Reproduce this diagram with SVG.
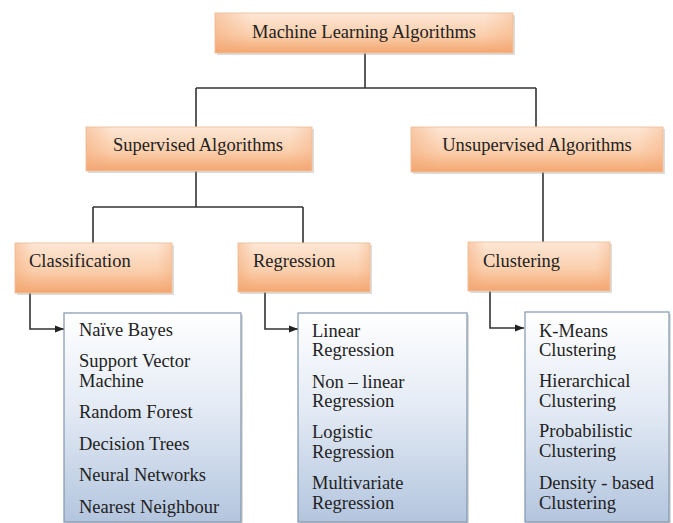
<svg xmlns="http://www.w3.org/2000/svg" width="673" height="523" viewBox="0 0 673 523">
<defs>
<linearGradient id="og" x1="0" y1="0" x2="0" y2="1">
<stop offset="0" stop-color="#fde7d6"/>
<stop offset="0.55" stop-color="#fbcfad"/>
<stop offset="1" stop-color="#f3a670"/>
</linearGradient>
<linearGradient id="og2" x1="0" y1="0" x2="1" y2="0">
<stop offset="0" stop-color="#f3a672" stop-opacity="0.45"/>
<stop offset="0.12" stop-color="#f3a672" stop-opacity="0"/>
<stop offset="0.9" stop-color="#f3a672" stop-opacity="0"/>
<stop offset="1" stop-color="#f3a672" stop-opacity="0.35"/>
</linearGradient>
<linearGradient id="bg" x1="0" y1="0" x2="0" y2="1">
<stop offset="0" stop-color="#ffffff"/>
<stop offset="0.45" stop-color="#e4ebf5"/>
<stop offset="1" stop-color="#b3c5de"/>
</linearGradient>
<marker id="arr" viewBox="0 0 10 10" refX="10" refY="5" markerWidth="9" markerHeight="9" markerUnits="userSpaceOnUse" orient="auto">
<path d="M0,1 L10,5 L0,9 z" fill="#222"/>
</marker>
</defs>
<style>
.sh{fill:#9a9a9a;opacity:0.35}
.ob{fill:url(#og);stroke:#f0c8a8;stroke-width:1}
.oe{fill:url(#og2)}
.lb{fill:url(#bg);stroke:#8396ae;stroke-width:1.2}
.t{font-size:18.5px;fill:#222}
.c{text-anchor:middle}
.ln{fill:none;stroke:#333;stroke-width:1.6}
</style>
<rect width="673" height="523" fill="#ffffff"/>

<g id="connectors">
<path class="ln" d="M365,53 V88 M196,88 H536 M196,88 V127 M536,88 V127"/>
<path class="ln" d="M196,171 V207 M93,207 H303 M93,207 V243 M303,207 V243"/>
<path class="ln" d="M543,172 V242"/>
<path class="ln" d="M30,293 V329 H64" marker-end="url(#arr)"/>
<path class="ln" d="M265,292 V329 H298" marker-end="url(#arr)"/>
<path class="ln" d="M490,291 V328 H524" marker-end="url(#arr)"/>
</g>

<g id="ml">
<rect class="sh" x="217" y="15" width="298" height="40"/>
<rect class="ob" x="215" y="13" width="298" height="40"/>
<rect class="oe" x="215" y="13" width="298" height="40"/>
<text class="t c" font-family="Liberation Serif" x="364" y="38">Machine Learning Algorithms</text>
</g>

<g id="supervised">
<rect class="sh" x="88" y="129" width="226" height="44"/>
<rect class="ob" x="86" y="127" width="226" height="44"/>
<rect class="oe" x="86" y="127" width="226" height="44"/>
<text class="t c" font-family="Liberation Serif" x="198" y="151">Supervised Algorithms</text>
</g>

<g id="unsupervised">
<rect class="sh" x="413" y="129" width="252" height="45"/>
<rect class="ob" x="411" y="127" width="252" height="45"/>
<rect class="oe" x="411" y="127" width="252" height="45"/>
<text class="t c" font-family="Liberation Serif" x="537" y="151">Unsupervised Algorithms</text>
</g>

<g id="classification">
<rect class="sh" x="17" y="245" width="157" height="50"/>
<rect class="ob" x="15" y="243" width="157" height="50"/>
<rect class="oe" x="15" y="243" width="157" height="50"/>
<text class="t" font-family="Liberation Serif" x="29" y="267">Classification</text>
</g>

<g id="regression">
<rect class="sh" x="240" y="245" width="132" height="49"/>
<rect class="ob" x="238" y="243" width="132" height="49"/>
<rect class="oe" x="238" y="243" width="132" height="49"/>
<text class="t" font-family="Liberation Serif" x="253" y="267">Regression</text>
</g>

<g id="clustering">
<rect class="sh" x="470" y="244" width="142" height="49"/>
<rect class="ob" x="468" y="242" width="142" height="49"/>
<rect class="oe" x="468" y="242" width="142" height="49"/>
<text class="t" font-family="Liberation Serif" x="483" y="267">Clustering</text>
</g>

<g id="classification-list">
<rect class="sh" x="66" y="315" width="177" height="210"/>
<rect class="lb" x="64" y="313" width="177" height="209"/>
<text class="t" font-family="Liberation Serif" x="79" y="336">Naïve Bayes</text>
<text class="t" font-family="Liberation Serif" x="79" y="367">Support Vector</text>
<text class="t" font-family="Liberation Serif" x="79" y="387">Machine</text>
<text class="t" font-family="Liberation Serif" x="79" y="418">Random Forest</text>
<text class="t" font-family="Liberation Serif" x="79" y="450">Decision Trees</text>
<text class="t" font-family="Liberation Serif" x="79" y="481">Neural Networks</text>
<text class="t" font-family="Liberation Serif" x="79" y="513">Nearest Neighbour</text>
</g>

<g id="regression-list">
<rect class="sh" x="300" y="315" width="169" height="210"/>
<rect class="lb" x="298" y="313" width="169" height="209"/>
<text class="t" font-family="Liberation Serif" x="312" y="337">Linear</text>
<text class="t" font-family="Liberation Serif" x="312" y="356">Regression</text>
<text class="t" font-family="Liberation Serif" x="312" y="388">Non – linear</text>
<text class="t" font-family="Liberation Serif" x="312" y="407">Regression</text>
<text class="t" font-family="Liberation Serif" x="312" y="438">Logistic</text>
<text class="t" font-family="Liberation Serif" x="312" y="458">Regression</text>
<text class="t" font-family="Liberation Serif" x="312" y="489">Multivariate</text>
<text class="t" font-family="Liberation Serif" x="312" y="509">Regression</text>
</g>

<g id="clustering-list">
<rect class="sh" x="527" y="314" width="144" height="211"/>
<rect class="lb" x="525" y="312" width="144" height="210"/>
<text class="t" font-family="Liberation Serif" x="539" y="337">K-Means</text>
<text class="t" font-family="Liberation Serif" x="539" y="356">Clustering</text>
<text class="t" font-family="Liberation Serif" x="539" y="387">Hierarchical</text>
<text class="t" font-family="Liberation Serif" x="539" y="407">Clustering</text>
<text class="t" font-family="Liberation Serif" x="539" y="437">Probabilistic</text>
<text class="t" font-family="Liberation Serif" x="539" y="457">Clustering</text>
<text class="t" font-family="Liberation Serif" x="539" y="489">Density - based</text>
<text class="t" font-family="Liberation Serif" x="539" y="509">Clustering</text>
</g>
</svg>
